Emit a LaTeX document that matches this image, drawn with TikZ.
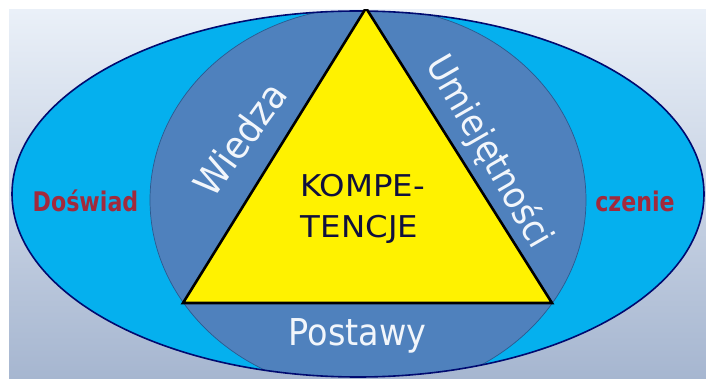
\documentclass[tikz,border=0pt]{standalone}
\usepackage{fontspec}
\setmainfont{DejaVu Sans}
\definecolor{bgtop}{HTML}{EAF0F8}
\definecolor{bgbot}{HTML}{A6B6D0}
\definecolor{outerblue}{HTML}{05B0EE}
\definecolor{innerblue}{HTML}{4F81BD}
\definecolor{innerline}{HTML}{2A5A90}
\definecolor{navyline}{HTML}{000A70}
\definecolor{darkred}{HTML}{A22A3C}
\definecolor{kompcol}{HTML}{10103E}
\definecolor{lbltext}{HTML}{F2F6FB}
\tikzset{
  whitelbl/.style={text=lbltext, font=\fontsize{37}{40}\selectfont, inner sep=0pt},
  redlbl/.style={text=darkred, font=\bfseries\fontsize{27}{30}\selectfont, inner sep=0pt, anchor=base},
  komplbl/.style={text=kompcol, font=\fontsize{30}{36}\selectfont, inner sep=0pt, anchor=base},
}
\begin{document}
\begin{tikzpicture}[x=1pt,y=-1pt]
\useasboundingbox (0,0) rectangle (706,379);
\fill[white] (0,0) rectangle (706,379);
\shade[top color=bgtop,bottom color=bgbot] (9,10) rectangle (706,379);
\coordinate (oc) at (358,194);
\coordinate (ic) at (368,200);
\coordinate (apex) at (366,8);
\coordinate (bl) at (183,303);
\coordinate (br) at (552,303);
\begin{scope}
  \clip (9,10) rectangle (706,379);
  \fill[outerblue] (oc) ellipse [x radius=346, y radius=183];
  \begin{scope}
    \clip (oc) ellipse [x radius=346, y radius=183];
    \fill[innerblue, draw=innerline, line width=0.7pt] (ic) ellipse [x radius=218, y radius=193];
  \end{scope}
  \draw[navyline, line width=1.6pt] (oc) ellipse [x radius=346, y radius=183];
  \fill[yellow, draw=black, line width=2.6pt, line join=miter] (apex) -- (br) -- (bl) -- cycle;
\end{scope}
\node[komplbl] (kompe) at (362.5,197) {\scalebox{1.08}[1]{KOMPE-}};
\node[komplbl] (tencje) at (359.5,237) {\scalebox{1.08}[1]{TENCJE}};
\node[whitelbl, anchor=base] (postawy) at (357.5,345) {\scalebox{0.905}[1]{Postawy}};
\node[whitelbl, rotate=54, font=\fontsize{38}{40}\selectfont] (wiedza) at (240,139) {\scalebox{0.93}[1]{Wiedza}};
\node[whitelbl, rotate=-60] (umiej) at (489,152) {\scalebox{0.9}[1]{Umiejętności}};
\node[redlbl] (doswiad) at (85.5,212) {\scalebox{0.82}[1]{Doświad}};
\node[redlbl] (czenie) at (635,212) {\scalebox{0.82}[1]{czenie}};
\end{tikzpicture}
\end{document}
